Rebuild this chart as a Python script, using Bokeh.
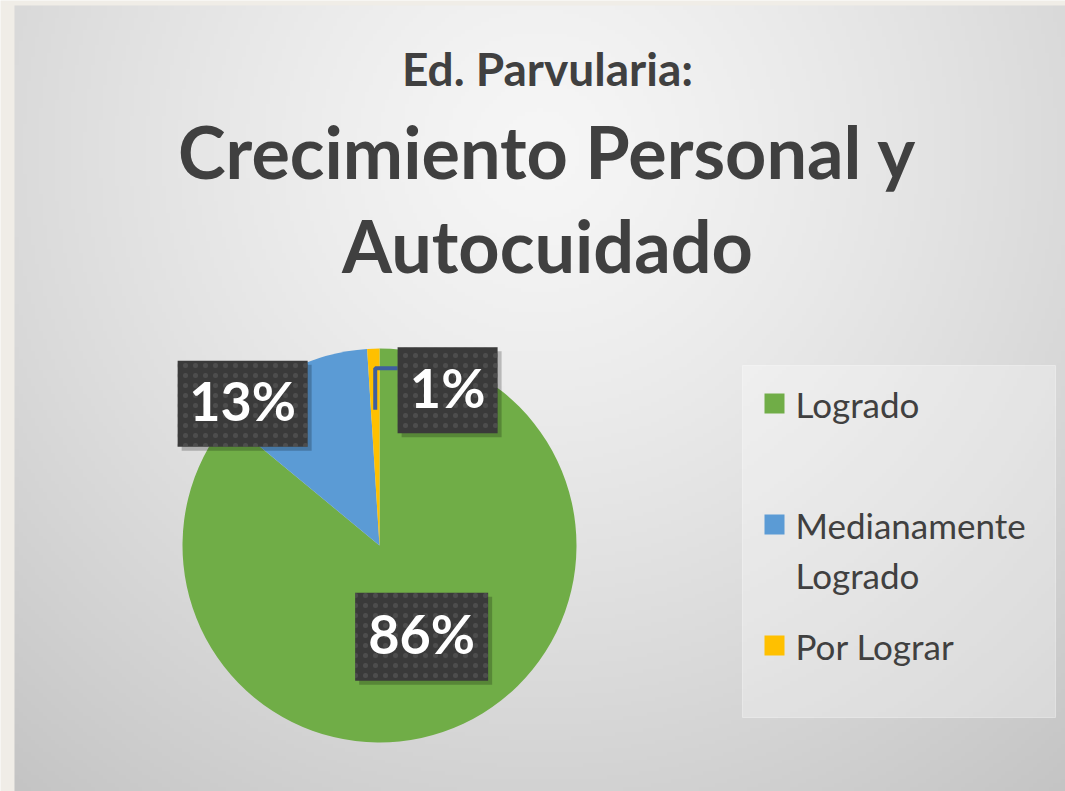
import numpy as np
from bokeh.plotting import figure
from bokeh.models import Range1d, ColumnDataSource
from bokeh.core.properties import value
from bokeh.embed import file_html
from bokeh.resources import INLINE

# ---------------- data ----------------
categories = ["Logrado", "Medianamente Logrado", "Por Lograr"]
legend_labels = ["Logrado", "Medianamente\nLogrado", "Por Lograr"]
percentages = [86, 13, 1]
colors = ["#70AD47", "#5B9BD5", "#FFC000"]
title_lines = ["Ed. Parvularia:", "Crecimiento Personal y", "Autocuidado"]

# ---------------- layout (page pixels) ----------------
W, H = 1065, 791
def px(X):
    return X
def py(Y):
    return H - Y

FONT = "Lato"
TXT = "#404040"

p = figure(width=W, height=H, output_backend="svg", toolbar_location=None,
           x_range=Range1d(0, W), y_range=Range1d(0, H),
           x_axis_type=None, y_axis_type=None, min_border=0,
           outline_line_color=None, border_fill_color="#f0ede7",
           background_fill_color="#f0ede7")
p.grid.visible = False

# ---- background radial gradient of chart area ----
x0, x1 = px(14), W
y_top = py(5)
nx, ny = 264, 200
dw, dh = x1 - x0, y_top
Xs = 14 + (np.arange(nx) + 0.5) * dw / nx
Ys = H - (np.arange(ny) + 0.5) * dh / ny
XX, YY = np.meshgrid(Xs, Ys)
d = np.sqrt((XX - 540) ** 2 + (YY - 150) ** 2)
val = 246 - 50 * np.clip(d / 830, 0, 1.2) ** 1.3
val = np.clip(val, 0, 255).astype(np.uint8)
img = np.empty((ny, nx), dtype=np.uint32)
v = img.view(dtype=np.uint8).reshape((ny, nx, 4))
v[..., 0] = val
v[..., 1] = val
v[..., 2] = val
v[..., 3] = 255
p.image_rgba(image=[img], x=x0, y=0, dw=dw, dh=dh)

# ---- title ----
title_sizes = ["46px", "72px", "72px"]
title_centers = [68, 150, 244]
for line, size, yc in zip(title_lines, title_sizes, title_centers):
    p.text(x=[px(547)], y=[py(yc)], text=[line], text_font=value(FONT),
           text_font_style="bold", text_font_size=size, text_color=TXT,
           text_align="center", text_baseline="middle")

# ---- pie ----
cx, cy, R = px(379), py(545), 197
frac = np.array(percentages, dtype=float) / sum(percentages)
cum = np.concatenate([[0], np.cumsum(frac)])
start = np.pi / 2 - 2 * np.pi * cum[:-1]
end = np.pi / 2 - 2 * np.pi * cum[1:]
mid = (start + end) / 2
src = ColumnDataSource(dict(cat=categories, pct=percentages, color=colors,
                            start=start, end=end))
p.wedge(x=cx, y=cy, radius=R, start_angle="start", end_angle="end",
        direction="clock", fill_color="color", line_color=None, source=src)

# ---- data labels (polar placement: radius factor, clockwise angle from top) ----
label_polar = [(0.51, 155.2), (1.0, 316.0), (0.86, 23.7)]
label_w = [133, 130, 100]
label_h = [88, 86, 86]
lx, ly = [], []
for rf, ang in label_polar:
    a = np.deg2rad(ang)
    lx.append(cx + rf * R * np.sin(a))
    ly.append(cy + rf * R * np.cos(a))

# leader line of the smallest slice (from its label to inside the slice)
k = 2
tip_x = cx + 0.69 * R * np.cos(mid[k])
tip_y = cy + 0.69 * R * np.sin(mid[k])
knee_y = ly[k] + label_h[k] / 2 - 21
p.line(x=[lx[k] - label_w[k] / 2, tip_x, tip_x], y=[knee_y, knee_y, tip_y],
       line_color="#3f5f9e", line_width=4)

lab_text = [f"{v_}%" for v_ in percentages]
lsrc = ColumnDataSource(dict(x=lx, y=ly, w=label_w, h=label_h, t=lab_text,
                             xs=[a + 4 for a in lx], ys=[b - 4 for b in ly],
                             ty=[b + 3 for b in ly]))
p.rect(x="xs", y="ys", width="w", height="h", source=lsrc,
       fill_color="black", fill_alpha=0.22, line_color=None)
p.rect(x="x", y="y", width="w", height="h", source=lsrc,
       fill_color="#3a3a3a", line_color=None,
       hatch_pattern="dot", hatch_color="#5a5a5a", hatch_scale=10, hatch_alpha=0.6)
p.text(x="x", y="ty", text="t", source=lsrc, text_font=value(FONT),
       text_font_style="bold", text_font_size="54px", text_color="white",
       text_align="center", text_baseline="middle")

# ---- legend ----
p.quad(left=px(742), right=px(1055), top=py(365), bottom=py(717),
       fill_color="white", fill_alpha=0.3, line_color="white", line_alpha=0.35)
leg_y = [py(403 + 121 * i) for i in range(len(categories))]
gsrc = ColumnDataSource(dict(x=[px(774)] * len(categories), y=leg_y,
                             color=colors, t=legend_labels,
                             tx=[px(795)] * len(categories),
                             ty=[yy + 21 for yy in leg_y]))
p.rect(x="x", y="y", width=20, height=20, fill_color="color", line_color=None,
       source=gsrc)
p.text(x="tx", y="ty", text="t", source=gsrc, text_font=value(FONT),
       text_font_size="35px", text_color=TXT, text_align="left",
       text_baseline="top", text_line_height=1.2)

open("out.html", "w").write(file_html(p, INLINE))
